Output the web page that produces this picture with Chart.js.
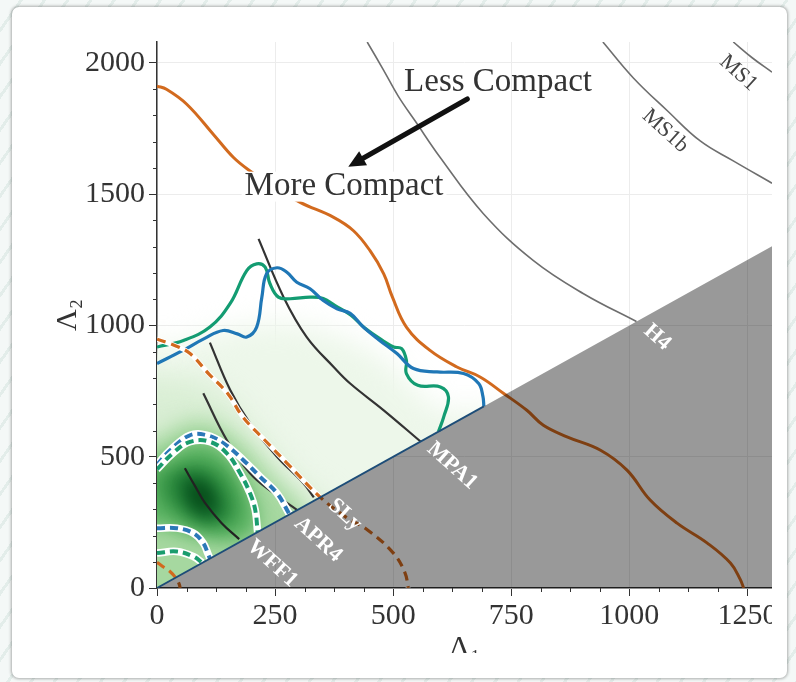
<!DOCTYPE html>
<html>
<head>
<meta charset="utf-8">
<script src="https://cdn.jsdelivr.net/npm/chart.js@4.4.1/dist/chart.umd.min.js"></script>
<style>
  html, body { margin: 0; padding: 0; }
  body {
    width: 796px; height: 682px; overflow: hidden; position: relative;
    background: repeating-linear-gradient(125deg, #f4f8f7 0 16px, #e3edea 16px 19px);
  }
  .card {
    position: absolute; left: 12px; top: 7px; width: 775px; height: 671px;
    background: #fff; border-radius: 7px; box-shadow: 0 0 3px 1px rgba(0, 0, 0, 0.3);
  }
  .clip { position: absolute; left: 46px; top: 20px; width: 726px; height: 633px; overflow: hidden; }
</style>
</head>
<body>
<div class="card"></div>
<div class="clip"><canvas id="myChart" width="780" height="660"></canvas></div>
<script>
const xTickLabels = [0, 250, 500, 750, 1000, 1250];
const yTickLabels = [0, 500, 1000, 1500, 2000];
const xMinorStep = 62.5;
const yMinorStep = 100;
const xMax = 1302;
const yMax = 2080;

// equation of state curves, [Lambda1, Lambda2]
const eosMS1 = [[1220, 2080], [1260, 2020], [1302, 1965]];
const eosMS1b = [[944, 2080], [1008, 1944], [1081, 1817], [1150, 1703], [1220, 1627], [1302, 1542]];
const eosH4 = [[445, 2080], [479, 1975], [511, 1873], [547, 1778], [600, 1639], [691, 1426], [797, 1247], [903, 1121], [1015, 1015]];
const eosMPA1 = [[215, 1330], [268, 1108], [317, 956], [374, 842], [409, 779], [480, 677], [558, 558]];
const eosSLy = [[112, 935], [155, 754], [197, 627], [254, 500], [310, 399], [332, 345]];
const eosAPR4 = [[98, 742], [148, 563], [197, 437], [246, 362], [297, 297]];
const eosWFF1 = [[59, 456], [80, 390], [102, 323], [137, 247], [174, 186]];

// posterior contours
const greenOuter = [[0, 918], [56, 943], [112, 994], [155, 1084], [190, 1209], [211, 1235], [229, 1222], [239, 1160], [257, 1108], [282, 1102], [324, 1108], [352, 1103], [377, 1076], [410, 1040], [440, 990], [480, 940], [501, 918], [518, 912], [528, 867], [528, 817], [552, 772], [600, 766], [617, 728], [607, 652], [596, 596]];
const blueOuter = [[0, 855], [55, 905], [100, 950], [140, 981], [170, 968], [190, 956], [211, 994], [222, 1108], [232, 1197], [254, 1220], [275, 1203], [296, 1165], [324, 1140], [352, 1095], [381, 1064], [409, 1046], [437, 994], [470, 945], [508, 893], [543, 836], [593, 823], [649, 817], [681, 779], [690, 730], [692, 692]];
const blueInner = [[0, 470], [28, 525], [70, 582], [105, 582], [141, 551], [183, 487], [218, 424], [254, 361], [280, 282]];
const greenInner = [[0, 452], [34, 514], [70, 557], [112, 557], [148, 513], [176, 437], [197, 361], [208, 297], [213, 213]];
const blueLow = [[0, 228], [42, 228], [77, 209], [98, 171], [108, 130], [112, 112]];
const greenLow = [[0, 133], [42, 139], [77, 120], [96, 96]];

// prior bounds
const orangeUpper = [[0, 1912], [20, 1900], [63, 1843], [119, 1729], [162, 1640], [197, 1589], [250, 1525], [303, 1469], [374, 1412], [416, 1361], [451, 1285], [480, 1197], [498, 1110], [528, 994], [578, 905], [635, 842], [684, 804], [734, 741], [783, 677], [818, 620], [868, 576], [939, 525], [995, 449], [1044, 335], [1101, 247], [1165, 171], [1214, 95], [1235, 32], [1242, 0]];
const orangeLower = [[0, 948], [40, 922], [70, 893], [110, 815], [150, 740], [182, 651], [230, 560], [275, 476], [345, 347], [400, 270], [445, 222], [500, 134], [525, 58], [532, 0]];
const orangeLowerSmall = [[0, 98], [12, 82], [28, 62], [40, 38], [47, 15], [49, 0]];

// density shading levels (outer to inner)
const densityL1 = [[-100, 1000], [0, 920], [100, 960], [200, 1000], [300, 1000], [400, 950], [480, 870], [540, 770], [600, 680], [720, 650], [720, -100], [-100, -100]];
const densityL2 = [[-100, 820], [0, 800], [80, 790], [150, 720], [210, 600], [260, 490], [310, 390], [360, 330], [400, -100], [-100, -100]];
const densityL3 = [[-100, 570], [0, 570], [40, 615], [90, 640], [140, 610], [190, 540], [230, 460], [270, 380], [310, 300], [310, -100], [-100, -100]];
const densityL4 = [[-100, 470], [0, 485], [40, 530], [80, 560], [120, 550], [160, 490], [185, 420], [205, 340], [215, 260], [200, 200], [150, 175], [80, 195], [0, 235], [-100, 240]];
const densityL5 = [[0, 420], [40, 460], [90, 480], [135, 445], [162, 375], [172, 300], [158, 245], [110, 232], [60, 265], [10, 330]];
const densityL6 = [[45, 420], [85, 432], [115, 392], [135, 322], [130, 270], [100, 262], [68, 300], [48, 360]];
const densityCore = [[70, 392], [95, 398], [115, 352], [118, 310], [100, 298], [80, 318], [68, 360]];

const greyRegion = [[0, 0], [1400, 1400], [1400, -50], [-50, -50]];
const diagonalEdge = [[0, 0], [692, 692]];

const eosLabels = [
  { text: "MPA1", x: 625, y: 465, color: "#ffffff", size: 22, bold: true },
  { text: "SLy", x: 398, y: 279, color: "#ffffff", size: 22, bold: true },
  { text: "APR4", x: 341, y: 184, color: "#ffffff", size: 22, bold: true },
  { text: "WFF1", x: 244, y: 93, color: "#ffffff", size: 22, bold: true },
  { text: "H4", x: 1059, y: 955, color: "#ffffff", size: 22, bold: true },
  { text: "MS1b", x: 1076, y: 1741, color: "#444444", size: 22, bold: false },
  { text: "MS1", x: 1231, y: 1962, color: "#444444", size: 22, bold: false },
];
const labelAngle = 42;

const serif = "'Liberation Serif', 'DejaVu Serif', serif";
Chart.defaults.font.family = serif;

const pts = (arr) => arr.map(([x, y]) => ({ x, y }));
const layers = [];
function addLine(data, opts) {
  layers.push(Object.assign({
    data: pts(data), showLine: true, pointRadius: 0, fill: false,
    tension: 0.4, borderWidth: 2, borderCapStyle: "butt",
  }, opts));
}

// density (drawn blurred by the plugin below)
addLine(densityL1, { borderWidth: 0, shade: "#edf7ea", blur: 14 });
addLine(densityL2, { borderWidth: 0, shade: "#d9eed4", blur: 14 });
addLine(densityL3, { borderWidth: 0, shade: "#a6d8a0", blur: 10 });
addLine(densityL4, { borderWidth: 0, shade: "#5db564", blur: 9 });
addLine(densityL5, { borderWidth: 0, shade: "#2f8e40", blur: 9 });
addLine(densityL6, { borderWidth: 0, shade: "#11672a", blur: 8 });
addLine(densityCore, { borderWidth: 0, shade: "#064a18", blur: 8 });

// EOS
addLine(eosMS1, { borderColor: "#6e6e6e", borderWidth: 1.6 });
addLine(eosMS1b, { borderColor: "#6e6e6e", borderWidth: 1.6 });
addLine(eosH4, { borderColor: "#6e6e6e", borderWidth: 1.6 });
addLine(eosMPA1, { borderColor: "#333333", borderWidth: 2.2 });
addLine(eosSLy, { borderColor: "#333333", borderWidth: 2.2 });
addLine(eosAPR4, { borderColor: "#333333", borderWidth: 2.2 });
addLine(eosWFF1, { borderColor: "#222222", borderWidth: 2.2 });

// contours
addLine(greenOuter, { borderColor: "#139c72", borderWidth: 3.2 });
addLine(blueOuter, { borderColor: "#1f77b6", borderWidth: 3.2 });
[[blueInner, "#2b78b8"], [greenInner, "#1a9c6e"], [blueLow, "#2b78b8"], [greenLow, "#1a9c6e"]].forEach(([d, c]) => {
  addLine(d, { borderColor: "#ffffff", borderWidth: 7.5 });
  addLine(d, { borderColor: c, borderWidth: 4, borderDash: [8, 5] });
});

// prior
addLine(orangeUpper, { borderColor: "#d26a1e", borderWidth: 3 });
addLine(orangeLower, { borderColor: "#ffffff", borderWidth: 5 });
addLine(orangeLower, { borderColor: "#d26a1e", borderWidth: 3.2, borderDash: [9, 6] });
addLine(orangeLowerSmall, { borderColor: "#d26a1e", borderWidth: 3.2, borderDash: [9, 6] });

// causality-excluded region
addLine(greyRegion, { borderWidth: 0, tension: 0, fill: "shape", backgroundColor: "rgba(0,0,0,0.4)" });
addLine(diagonalEdge, { borderColor: "#1d4d78", borderWidth: 1.8, tension: 0 });

layers.forEach((ds, i) => { ds.order = layers.length - i; });

const densityPlugin = {
  id: "density",
  beforeDatasetsDraw(chart) {
    const { ctx, chartArea: a, scales: { x, y } } = chart;
    ctx.save();
    ctx.beginPath();
    ctx.rect(a.left, a.top, a.width, a.height);
    ctx.clip();
    ctx.beginPath();
    ctx.moveTo(x.getPixelForValue(0), y.getPixelForValue(0));
    ctx.lineTo(x.getPixelForValue(3000), y.getPixelForValue(3000));
    ctx.lineTo(x.getPixelForValue(-500), y.getPixelForValue(3000));
    ctx.lineTo(x.getPixelForValue(-500), y.getPixelForValue(0));
    ctx.closePath();
    ctx.clip();
    chart.data.datasets.forEach((ds, i) => {
      if (!ds.shade) return;
      const line = chart.getDatasetMeta(i).dataset;
      if (line.updateControlPoints) line.updateControlPoints(a, "x");
      ctx.filter = "blur(" + ds.blur + "px)";
      ctx.fillStyle = ds.shade;
      ctx.beginPath();
      line.path(ctx);
      ctx.closePath();
      ctx.fill();
    });
    ctx.restore();
  },
};

const notesPlugin = {
  id: "notes",
  afterDatasetsDraw(chart) {
    const { ctx, scales: { x, y } } = chart;
    ctx.save();
    ctx.textAlign = "center";
    ctx.textBaseline = "middle";

    eosLabels.forEach((l) => {
      ctx.save();
      ctx.translate(x.getPixelForValue(l.x), y.getPixelForValue(l.y));
      ctx.rotate(labelAngle * Math.PI / 180);
      ctx.font = (l.bold ? "bold " : "") + l.size + "px " + serif;
      ctx.fillStyle = l.color;
      ctx.fillText(l.text, 0, 0);
      ctx.restore();
    });

    ctx.font = "33px " + serif;
    ctx.fillStyle = "#333333";
    // "More Compact" with its white box
    const mx = x.getPixelForValue(396), my = y.getPixelForValue(1529);
    const mw = ctx.measureText("More Compact").width;
    ctx.fillStyle = "#ffffff";
    ctx.fillRect(mx - mw / 2 - 3, my - 15, mw + 6, 30);
    ctx.fillStyle = "#333333";
    ctx.fillText("More Compact", mx, my);
    ctx.fillText("Less Compact", x.getPixelForValue(722), y.getPixelForValue(1927));

    // arrow
    const x0 = x.getPixelForValue(657), y0 = y.getPixelForValue(1863);
    const x1 = x.getPixelForValue(405), y1 = y.getPixelForValue(1605);
    const ang = Math.atan2(y1 - y0, x1 - x0);
    const head = 17, hw = 8;
    const bx = x1 - head * Math.cos(ang), by = y1 - head * Math.sin(ang);
    ctx.strokeStyle = "#111111";
    ctx.fillStyle = "#111111";
    ctx.lineWidth = 5;
    ctx.lineCap = "round";
    ctx.beginPath();
    ctx.moveTo(x0, y0);
    ctx.lineTo(bx, by);
    ctx.stroke();
    ctx.beginPath();
    ctx.moveTo(x1, y1);
    ctx.lineTo(bx + hw * Math.sin(ang), by - hw * Math.cos(ang));
    ctx.lineTo(bx - hw * Math.sin(ang), by + hw * Math.cos(ang));
    ctx.closePath();
    ctx.fill();
    ctx.restore();
  },
  afterDraw(chart) {
    // minor ticks
    const { ctx, chartArea: a, scales: { x, y } } = chart;
    ctx.save();
    ctx.strokeStyle = "#333333";
    ctx.lineWidth = 1;
    ctx.beginPath();
    for (let v = 0; v <= xMax; v += xMinorStep) {
      if (xTickLabels.includes(v)) continue;
      const p = Math.round(x.getPixelForValue(v)) + 0.5;
      ctx.moveTo(p, a.bottom);
      ctx.lineTo(p, a.bottom + 4);
    }
    for (let v = 0; v <= yMax; v += yMinorStep) {
      if (yTickLabels.includes(v)) continue;
      const p = Math.round(y.getPixelForValue(v)) + 0.5;
      ctx.moveTo(a.left, p);
      ctx.lineTo(a.left - 4, p);
    }
    ctx.stroke();
    ctx.restore();
  },
};

const tickFont = { family: serif, size: 30 };

const ctx = document.getElementById("myChart").getContext("2d");
const myChart = new Chart(ctx, {
  type: "scatter",
  data: { datasets: layers },
  options: {
    responsive: false,
    animation: false,
    events: [],
    layout: { padding: { left: 0, right: 54, top: 21, bottom: 0 } },
    elements: { line: { capBezierPoints: false } },
    plugins: { legend: { display: false }, tooltip: { enabled: false } },
    scales: {
      x: {
        type: "linear",
        min: 0,
        max: xMax,
        afterBuildTicks: (s) => { s.ticks = xTickLabels.map((v) => ({ value: v })); },
        afterFit: (s) => { s.height = 92; },
        grid: { color: "#ececec", tickColor: "#333333", tickLength: 8 },
        border: { color: "#333333", width: 1.5 },
        ticks: { font: tickFont, color: "#333333", padding: 2, maxRotation: 0, autoSkip: false, callback: (v) => String(v) },
        title: { display: true, text: "Λ₁", font: tickFont, color: "#333333", padding: { top: 0, bottom: 14 } },
      },
      y: {
        type: "linear",
        min: 0,
        max: yMax,
        afterBuildTicks: (s) => { s.ticks = yTickLabels.map((v) => ({ value: v })); },
        afterFit: (s) => { s.width = 111; },
        grid: { color: "#ececec", tickColor: "#333333", tickLength: 8 },
        border: { color: "#333333", width: 1.5 },
        ticks: { font: tickFont, color: "#333333", padding: 4, autoSkip: false, callback: (v) => String(v) },
        title: { display: true, text: "Λ₂", font: tickFont, color: "#333333", padding: { top: 4, bottom: 0 } },
      },
    },
  },
  plugins: [densityPlugin, notesPlugin],
});
</script>
</body>
</html>
